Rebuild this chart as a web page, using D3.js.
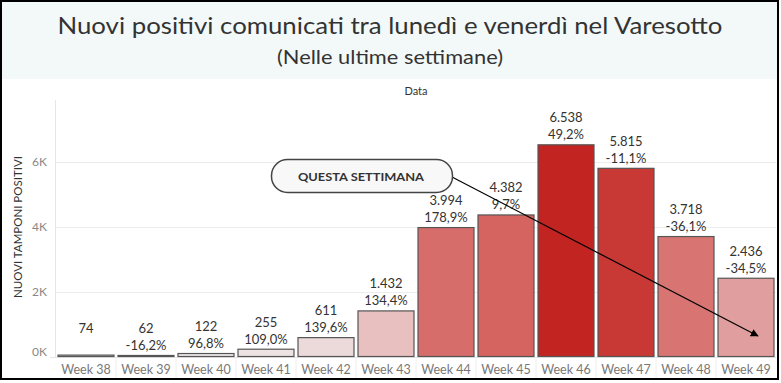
<!DOCTYPE html>
<html><head><meta charset="utf-8">
<script src="https://cdn.jsdelivr.net/npm/d3@7"></script>
<style>body{margin:0;background:#fff}svg{display:block}</style>
</head><body>
<script>
const categories = ["Week 38","Week 39","Week 40","Week 41","Week 42","Week 43","Week 44","Week 45","Week 46","Week 47","Week 48","Week 49"];
const values = [74,62,122,255,611,1432,3994,4382,6538,5815,3718,2436];
const pctLabels = ["","-16,2%","96,8%","109,0%","139,6%","134,4%","178,9%","9,7%","49,2%","-11,1%","-36,1%","-34,5%"];
const valueLabels = ["74","62","122","255","611","1.432","3.994","4.382","6.538","5.815","3.718","2.436"];
const barColors = ["#ffffff","#ffffff","#f0eaea","#eee3e3","#ecdada","#e8c0c0","#d76d6b","#d56360","#c22422","#c83835","#d87572","#e09f9e"];
const yTicks = [0,2000,4000,6000];
const yTickLabels = ["0K","2K","4K","6K"];

const W = 781, H = 383;
const svg = d3.select("body").append("svg").attr("width", W).attr("height", H);
const FONT = "Lato, 'Open Sans', sans-serif";

// title band
svg.append("rect").attr("x",1).attr("y",1).attr("width",777).attr("height",78).attr("fill","#f3f9f9");
svg.append("text").attr("x",390).attr("y",34).attr("text-anchor","middle")
  .attr("font-family",FONT).attr("font-size",24).attr("fill","#333")
  .attr("textLength",665).attr("lengthAdjust","spacingAndGlyphs")
  .text("Nuovi positivi comunicati tra lunedì e venerdì nel Varesotto");
svg.append("text").attr("x",390).attr("y",64).attr("text-anchor","middle")
  .attr("font-family",FONT).attr("font-size",19.5).attr("fill","#333")
  .attr("textLength",226).attr("lengthAdjust","spacingAndGlyphs")
  .text("(Nelle ultime settimane)");

svg.append("text").attr("x",416).attr("y",95).attr("text-anchor","middle")
  .attr("font-family",FONT).attr("font-size",11).attr("fill","#333").text("Data");

const x = d3.scaleBand().domain(categories).range([56,776]).paddingInner(0.05).paddingOuter(0.025);
const y = d3.scaleLinear().domain([0,7900]).range([357,100]);

// gridlines
svg.append("g").selectAll("line").data(yTicks.slice(1)).join("line")
  .attr("x1",56).attr("x2",776).attr("y1",d=>Math.round(y(d))+0.5).attr("y2",d=>Math.round(y(d))+0.5)
  .attr("stroke","#ececec");
svg.append("line").attr("x1",55.5).attr("x2",55.5).attr("y1",100).attr("y2",357).attr("stroke","#e6e6e6");
svg.append("line").attr("x1",50).attr("x2",776).attr("y1",357.5).attr("y2",357.5).attr("stroke","#e6e6e6");

// y tick labels
svg.append("g").selectAll("text").data(yTicks).join("text")
  .attr("x",47).attr("y",(d,i)=>y(d)+4 - (i===0?5:0)).attr("text-anchor","end")
  .attr("font-family",FONT).attr("font-size",12).attr("fill","#888")
  .text((d,i)=>yTickLabels[i]);

svg.append("text").attr("transform","translate(22,227) rotate(-90)").attr("text-anchor","middle")
  .attr("font-family",FONT).attr("font-size",11.5).attr("fill","#333")
  .text("NUOVI TAMPONI POSITIVI");

// bars
svg.append("g").selectAll("rect").data(values).join("rect")
  .attr("x",(d,i)=>x(categories[i])+0.5).attr("y",d=>y(d)+0.5)
  .attr("width",x.bandwidth()-1).attr("height",d=>y(0)-y(d)-1)
  .attr("fill",(d,i)=>barColors[i]).attr("stroke","#555").attr("stroke-width",1.2);

// labels
const lab = svg.append("g").attr("font-family",FONT).attr("font-size",13).attr("fill","#333").attr("text-anchor","middle");
values.forEach((v,i)=>{
  const cx = x(categories[i]) + x.bandwidth()/2;
  lab.append("text").attr("x",cx).attr("y",y(v)-22).text(valueLabels[i]);
  lab.append("text").attr("x",cx).attr("y",y(v)-5).text(pctLabels[i]);
});

// x axis labels and separators
svg.append("g").selectAll("line").data(categories.slice(1)).join("line")
  .attr("x1",d=>x(d)-x.step()*x.paddingInner()/2).attr("x2",d=>x(d)-x.step()*x.paddingInner()/2)
  .attr("y1",358).attr("y2",378).attr("stroke","#eeeeee");
svg.append("g").selectAll("text").data(categories).join("text")
  .attr("x",d=>x(d)+x.bandwidth()/2).attr("y",374).attr("text-anchor","middle")
  .attr("font-family",FONT).attr("font-size",12.5).attr("fill","#777").text(d=>d);

// annotation
svg.append("defs").append("marker").attr("id","arr").attr("viewBox","0 0 10 10")
  .attr("refX",9).attr("refY",5).attr("markerWidth",8).attr("markerHeight",8).attr("orient","auto")
  .attr("markerUnits","userSpaceOnUse")
  .append("path").attr("d","M0,0L10,5L0,10z").attr("fill","#000");
svg.append("line").attr("x1",452).attr("y1",177).attr("x2",758).attr("y2",336)
  .attr("stroke","#000").attr("stroke-width",1.2).attr("marker-end","url(#arr)");
svg.append("rect").attr("x",271.5).attr("y",159.5).attr("width",181).attr("height",33).attr("rx",16)
  .attr("fill","#f8f8f8").attr("stroke","#444").attr("stroke-width",1.5);
svg.append("text").attr("x",361).attr("y",181).attr("text-anchor","middle")
  .attr("font-family",FONT).attr("font-size",12).attr("font-weight",700).attr("fill","#333")
  .attr("textLength",126).attr("lengthAdjust","spacingAndGlyphs")
  .text("QUESTA SETTIMANA");

// frame
svg.append("rect").attr("x",1).attr("y",1).attr("width",777).attr("height",378)
  .attr("fill","none").attr("stroke","#000").attr("stroke-width",2);
</script>
</body></html>
